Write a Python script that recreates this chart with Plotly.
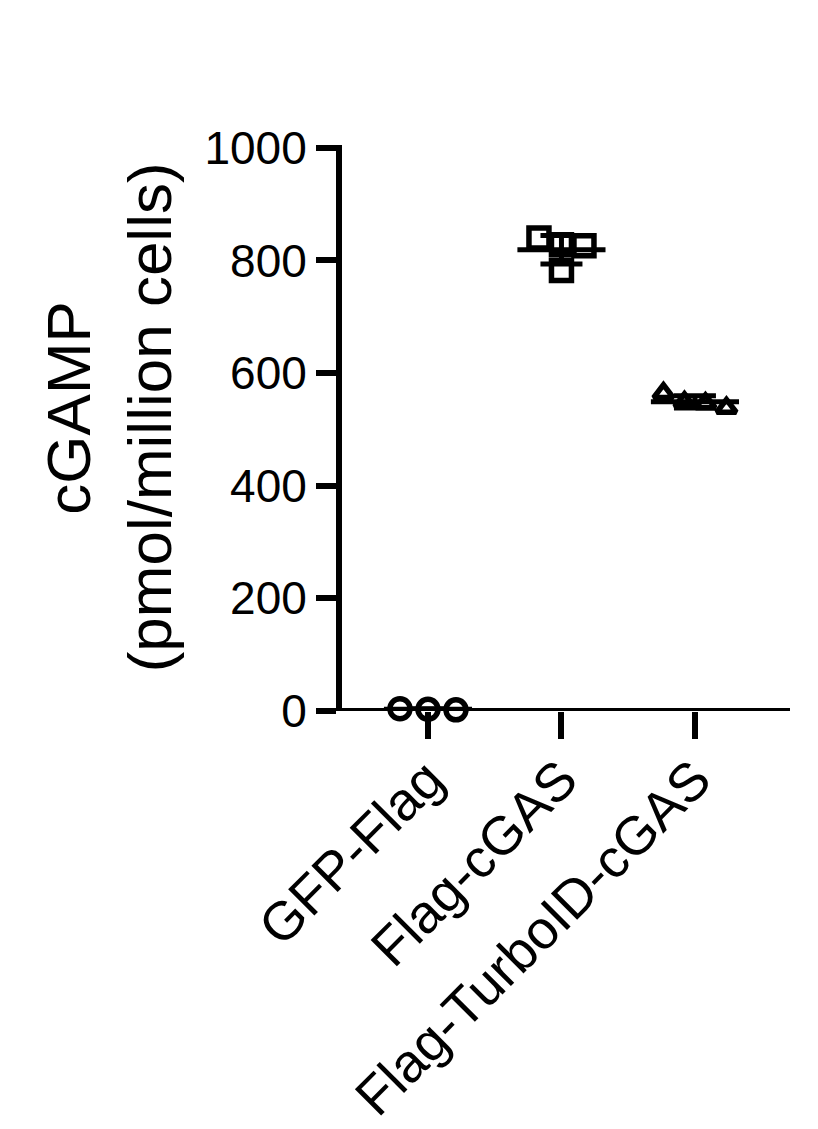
import numpy as np
import plotly.graph_objects as go

# data
groups = ["GFP-Flag", "Flag-cGAS", "Flag-TurboID-cGAS"]
gfp_flag = [3, 4, 2]
flag_cgas = [840, 828, 826, 782]
flag_turbo_cgas = [564, 548, 546, 538]
y_ticks = [0, 200, 400, 600, 800, 1000]

values = [gfp_flag, flag_cgas, flag_turbo_cgas]
symbols = ["circle", "square", "triangle-up"]
sizes = [20, 20, 17]
steps_px = [28, 22.5, 21]          # horizontal spacing of colliding points

# the page body adds an 8px margin, so the figure is shifted by 8px
W, H = 810, 1121
L, R, T, B = 334, 28, 137, 418
plot_w = W - L - R
x_range = [-0.644, 2.712]
y_range = [0, 1005]
px_per_x = plot_w / (x_range[1] - x_range[0])
FONT = "Liberation Sans, Arial, sans-serif"


def spread(vals, row_h, step):
    # Prism-like scatter: points within row_h of each other share a row
    order = np.argsort(vals)[::-1]
    rows, cur, top = [], [], None
    for i in order:
        if top is None or top - vals[i] <= row_h:
            if top is None:
                top = vals[i]
            cur.append(i)
        else:
            rows.append(cur)
            cur, top = [i], vals[i]
    rows.append(cur)
    off = np.zeros(len(vals))
    for row in rows:
        n = len(row)
        for k, i in enumerate(row):
            off[i] = (k - (n - 1) / 2) * step
    return off


fig = go.Figure()

for gi, vals in enumerate(values):
    vals = np.array(vals, dtype=float)
    off = spread(vals, 30, steps_px[gi] / px_per_x)
    fig.add_trace(go.Scatter(
        x=gi + off, y=vals, mode="markers", cliponaxis=False,
        marker=dict(symbol=symbols[gi], size=sizes[gi], color="white",
                    line=dict(color="black", width=5.5)),
        showlegend=False, hoverinfo="skip"))

for gi, vals in enumerate(values):
    vals = np.array(vals, dtype=float)
    m, sd = vals.mean(), vals.std(ddof=1)
    fig.add_trace(go.Scatter(
        x=[gi], y=[m], mode="markers", cliponaxis=False,
        marker=dict(size=1, color="rgba(0,0,0,0)"),
        error_y=dict(type="data", array=[sd], visible=True,
                     color="black", thickness=5, width=21),
        showlegend=False, hoverinfo="skip"))
    fig.add_trace(go.Scatter(
        x=[gi - 0.33, gi + 0.33], y=[m, m], mode="lines", cliponaxis=False,
        line=dict(color="black", width=5),
        showlegend=False, hoverinfo="skip"))

# x axis line, running out to the end of the 0 tick
fig.add_shape(type="line", xref="paper", yref="y",
              x0=-26 / plot_w, x1=1, y0=0, y1=0,
              line=dict(color="black", width=6))

fig.add_annotation(text="cGAMP", xref="paper", yref="paper", x=0, y=0.535,
                   xshift=-310, textangle=-90, showarrow=False,
                   font=dict(family=FONT, size=62, color="black"))
fig.add_annotation(text="(pmol/million cells)", xref="paper", yref="paper",
                   x=0, y=0.518, xshift=-229, textangle=-90, showarrow=False,
                   font=dict(family=FONT, size=62, color="black"))

fig.update_layout(
    width=W, height=H, margin=dict(l=L, r=R, t=T, b=B),
    paper_bgcolor="white", plot_bgcolor="white",
    font=dict(family=FONT, color="black"),
    xaxis=dict(range=x_range, tickvals=[0, 1, 2], ticktext=groups,
               tickangle=-45, ticks="outside", ticklen=27, tickwidth=5.5,
               tickcolor="black", showline=False, showgrid=False,
               zeroline=False, ticklabelstandoff=-13, automargin=False,
               tickfont=dict(size=54, family=FONT)),
    yaxis=dict(range=y_range, tickvals=y_ticks, ticks="outside",
               ticklen=20, tickwidth=5.5, tickcolor="black",
               showline=True, linewidth=6, linecolor="black",
               showgrid=False, zeroline=False, automargin=False,
               tickfont=dict(size=46, family=FONT)),
)

fig.write_html("out.html")
